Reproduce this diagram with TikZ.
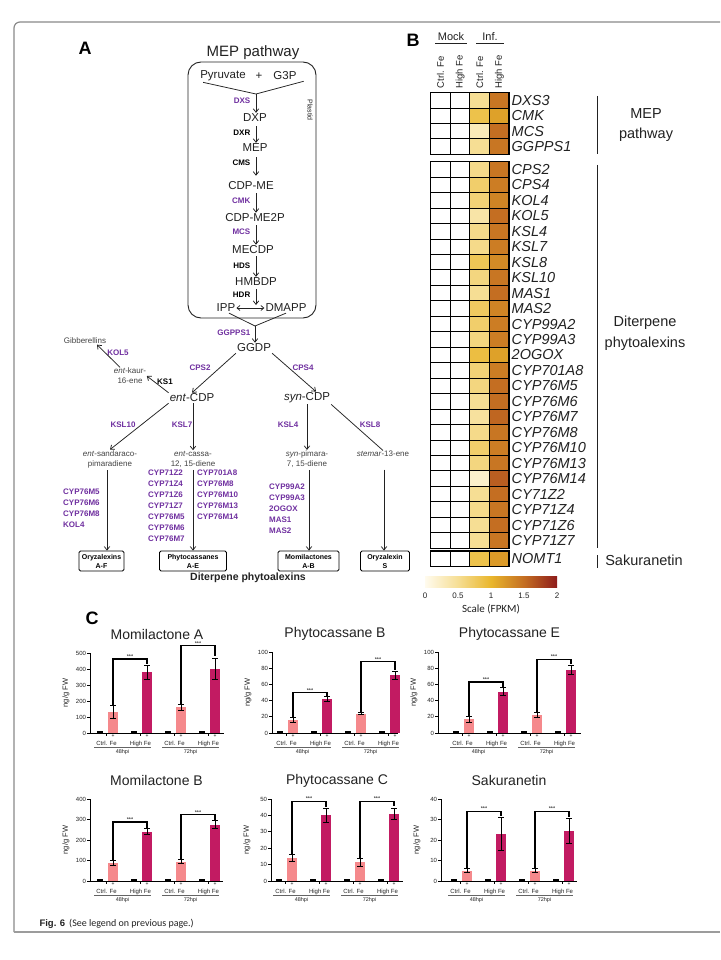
\documentclass[tikz,border=0pt]{standalone}
\usepackage{fontspec}
\setmainfont{Liberation Sans}
\newfontfamily\carl{Carlito}
\usetikzlibrary{arrows.meta,calc}

\definecolor{enz}{HTML}{7030A0}
\definecolor{txt}{HTML}{222222}
\definecolor{cmA}{HTML}{FFFBEE}
\definecolor{cmB}{HTML}{F6DE94}
\definecolor{cmC}{HTML}{E9B62C}
\definecolor{cmD}{HTML}{C46E22}
\definecolor{cmE}{HTML}{8E1C1C}
\definecolor{barlo}{HTML}{F5898C}
\definecolor{barhi}{HTML}{C21B62}
\definecolor{frm}{HTML}{8A8A8A}

\pgfdeclarehorizontalshading{cbar}{100bp}{color(0bp)=(cmA); color(25bp)=(cmA); color(37.5bp)=(cmB); color(50bp)=(cmC); color(62.5bp)=(cmD); color(75bp)=(cmE); color(100bp)=(cmE)}

\newcommand{\fsz}[2]{\fontsize{#1}{#2}\selectfont}

\newcommand{\setcm}[1]{%
  \pgfmathsetmacro\cmv{#1}%
  \ifdim\cmv pt<0.5pt
    \pgfmathtruncatemacro\cmp{\cmv/0.5*100}\colorlet{hmcol}{cmB!\cmp!cmA}%
  \else\ifdim\cmv pt<1pt
    \pgfmathtruncatemacro\cmp{(\cmv-0.5)/0.5*100}\colorlet{hmcol}{cmC!\cmp!cmB}%
  \else\ifdim\cmv pt<1.5pt
    \pgfmathtruncatemacro\cmp{(\cmv-1)/0.5*100}\colorlet{hmcol}{cmD!\cmp!cmC}%
  \else
    \pgfmathtruncatemacro\cmp{(\cmv-1.5)/0.5*100}\colorlet{hmcol}{cmE!\cmp!cmD}%
  \fi\fi\fi}

% heatmap row: y, h, value col3, value col4, gene
\newcommand{\hmrow}[5]{%
  \fill[white] (430.7,#1) rectangle ++(39.2,#2);
  \setcm{#3}\fill[fill=hmcol] (469.9,#1) rectangle ++(19.6,#2);
  \setcm{#4}\fill[fill=hmcol] (489.5,#1) rectangle ++(19.6,#2);
  \foreach \cx in {430.7,450.3,469.9,489.5}{\draw[cellb] (\cx,#1) rectangle ++(19.6,#2);}
  \node[gene] (gn) at (511,#1+#2/2) {#5};
}

% bar with error bar: x, v, e, colour
\newcommand{\cbar}[4]{%
  \fill[#4] (#1-5,0) rectangle (#1+5,#2);
  \draw[eb] (#1,#2-#3) -- (#1,#2+#3);
  \draw[eb] ($(#1,#2+#3)+(-3pt,0)$) -- ($(#1,#2+#3)+(3pt,0)$);
  \draw[eb] ($(#1,#2-#3)+(-3pt,0)$) -- ($(#1,#2-#3)+(3pt,0)$);
  \draw[line width=2pt] ($(#1-16,0)+(0,1pt)$) -- ($(#1-10,0)+(0,1pt)$);
  \draw[line width=0.6pt] ($(#1-7,0)$) -- ($(#1-7,0)+(0,-3pt)$);
  \node[plussgn] (pl) at ($(#1,0)+(0,-3.5pt)$) {+};
}

% chart: x0, y0, xend, h, ymax, step, title, first bar offset, data
\newcommand{\barchart}[9]{%
  \pgfmathsetmacro\ys{#4/#5}%
  \pgfmathsetmacro\axw{#3-#1}%
  \pgfmathsetmacro\bca{#8}\pgfmathsetmacro\bcb{#8+34}%
  \pgfmathsetmacro\bcc{#8+68}\pgfmathsetmacro\bcd{#8+102}%
  \begin{scope}[shift={(#1,#2)}, y=\ys pt]
    \node[ctitle] (tt) at ($(\axw/2,#5)+(0,18.5pt)$) {#7};
    \node[ylab] (yl) at ($(0,#5/2)+(-24pt,0)$) {ng/g FW};
    \foreach \t in {0,#6,...,#5}{%
      \draw[axl] (0,\t) -- ($(0,\t)+(-3pt,0)$);
      \node[ticklab] (tk) at ($(0,\t)+(-3.5pt,0)$) {\t};
    }
    \foreach \va/\ea/\vb/\eb/\vc/\ec/\vd/\ed/\ta/\da/\tb/\db in {#9}{%
      \cbar{\bca}{\va}{\ea}{barlo}
      \cbar{\bcb}{\vb}{\eb}{barhi}
      \cbar{\bcc}{\vc}{\ec}{barlo}
      \cbar{\bcd}{\vd}{\ed}{barhi}
      \draw[brkt] (\bca,\va+\ea) |- (\bcb,\ta) -- (\bcb,\da);
      \draw[brkt] (\bcc,\vc+\ec) |- (\bcd,\tb) -- (\bcd,\db);
      \node[stars] (s1) at (\bca/2+\bcb/2,\ta) {***};
      \node[stars] (s2) at (\bcc/2+\bcd/2,\tb) {***};
    }
    \draw[axl] (0,#5) -- (0,0) -- (\axw,0);
    \node[xl] (x1) at ($(\bca-6.5,0)+(0,-10.5pt)$) {Ctrl. Fe};
    \node[xl] (x2) at ($(\bcb-6.5,0)+(0,-10.5pt)$) {High Fe};
    \node[xl] (x3) at ($(\bcc-6.5,0)+(0,-10.5pt)$) {Ctrl. Fe};
    \node[xl] (x4) at ($(\bcd-6.5,0)+(0,-10.5pt)$) {High Fe};
    \draw[grpl] ($(\bca-19,0)+(0,-14.5pt)$) -- ($(\bcb+4,0)+(0,-14.5pt)$);
    \draw[grpl] ($(\bcc-19,0)+(0,-14.5pt)$) -- ($(\bcd+4,0)+(0,-14.5pt)$);
    \node[hpi] (h1) at ($(\bca/2+\bcb/2-7.5,0)+(0,-19pt)$) {48hpi};
    \node[hpi] (h2) at ($(\bcc/2+\bcd/2-7.5,0)+(0,-19pt)$) {72hpi};
  \end{scope}}

\tikzset{
  met/.style={font=\fsz{11.5}{13}, text=txt, inner sep=1pt},
  enzl/.style={font=\fsz{8}{9}\bfseries, text=enz, inner sep=0.5pt, anchor=east},
  enzk/.style={font=\fsz{8}{9}\bfseries, text=black, inner sep=0.5pt, anchor=east},
  enzf/.style={font=\fsz{8}{9}\bfseries, text=enz, inner sep=0.5pt},
  sml/.style={font=\fsz{8}{10}, text=txt!85, align=center, inner sep=0.5pt},
  prod/.style={draw, rounded corners=1.5pt, font=\fsz{7}{9}\bfseries, align=center, minimum height=20pt, inner sep=1pt, line width=0.8pt},
  arr/.style={-{Straight Barb[length=3.5pt,width=5.5pt]}, line width=0.75pt, draw=txt},
  ln/.style={line width=0.75pt, draw=txt},
  enzlist/.style={font=\fsz{8}{10.9}\bfseries, text=enz, align=left, anchor=north west, inner sep=0pt},
  gene/.style={anchor=west, font=\fsz{14.5}{16}\itshape, inner sep=0.5pt, text=txt},
  cellb/.style={draw=black, line width=0.9pt},
  grp/.style={font=\fsz{14.5}{20.5}, text=txt, align=center},
  collab/.style={font=\fsz{9.5}{10}, text=txt, rotate=90, anchor=west, inner sep=0.5pt},
  ctitle/.style={font=\fsz{14}{15}, text=txt},
  ylab/.style={font=\fsz{7.5}{8}, text=txt, rotate=90},
  ticklab/.style={font=\fsz{6}{7}, text=txt, anchor=east, inner sep=0.3pt},
  axl/.style={line width=0.9pt, draw=black},
  eb/.style={line width=0.9pt, draw=black},
  brkt/.style={line width=1.2pt, draw=black},
  stars/.style={font=\fsz{5.5}{6}, anchor=south, inner sep=0.3pt},
  xl/.style={font=\fsz{6}{7}, text=txt, inner sep=0.3pt},
  hpi/.style={font=\fsz{5.5}{6}, text=txt, inner sep=0.3pt},
  plussgn/.style={font=\fsz{5}{5}, inner sep=0pt},
  grpl/.style={line width=0.7pt, draw=txt!70},
}

\begin{document}
\begin{tikzpicture}[x=1pt,y=-1pt]
\useasboundingbox (0,0) rectangle (720,960);
\fill[white] (0,0) rectangle (720,960);

% frame
\draw[frm, line width=1.2pt, rounded corners=6pt] (14,932) -- (14,22) -- (720,22);
\draw[frm!85, line width=2pt] (14,932) -- (720,932);

% ================= Panel A =================
\node[font=\fsz{18}{20}\bfseries] (lblA) at (85,48) {A};
\node[font=\fsz{15}{17}, text=txt] (meptitle) at (253,53) {MEP pathway};
\node[draw=txt, line width=0.9pt, rounded corners=13pt, minimum width=128pt, minimum height=256pt] (plastbox) at (252,190) {};
\node[font=\fsz{7}{8}, rotate=-90, text=txt] (plast) at (310,110) {Plastid};

\node[met] (pyr) at (223,76) {Pyruvate};
\node[met] (plus) at (259,76) {+};
\node[met] (g3p) at (285,76) {G3P};
\coordinate (j1) at (256,94);
\draw[ln] ($(pyr.south west)+(4,0)$) -- (j1) -- ($(g3p.south east)+(6,0)$);

\node[met] (dxp) at (255,118) {DXP};
\node[met] (mep) at (255,148) {MEP};
\node[met] (cdpme) at (251,186) {CDP-ME};
\node[met] (cdpme2p) at (255,218) {CDP-ME2P};
\node[met] (mecdp) at (253,250) {MECDP};
\node[met] (hmbdp) at (256,282) {HMBDP};
\node[met] (ipp) at (226,308) {IPP};
\node[met] (dmapp) at (286,308) {DMAPP};
\coordinate (dblmid) at (256,305);

\draw[arr] (j1) -- (dxp.north -| j1);
\draw[arr] ($(dxp.south -| j1)+(0,3)$) -- (mep.north -| j1);
\draw[arr] ($(mep.south -| j1)+(0,4)$) -- ($(cdpme.north -| j1)+(0,-5)$);
\draw[arr] ($(cdpme.south -| j1)+(0,2)$) -- (cdpme2p.north -| j1);
\draw[arr] ($(cdpme2p.south -| j1)+(0,2)$) -- (mecdp.north -| j1);
\draw[arr] ($(mecdp.south -| j1)+(0,1)$) -- (hmbdp.north -| j1);
\draw[arr] ($(hmbdp.south -| j1)+(0,2)$) -- (dblmid);
\draw[{Straight Barb[length=3pt,width=5pt]}-{Straight Barb[length=3pt,width=5pt]}, line width=0.7pt, draw=txt] (ipp.east) -- (dmapp.west);

\node[enzl] (dxs) at (251,101) {DXS};
\node[enzk] (dxr) at (251,133) {DXR};
\node[enzk] (cms) at (251,163) {CMS};
\node[enzl] (cmk) at (251,201) {CMK};
\node[enzl] (mcs) at (251,232) {MCS};
\node[enzk] (hds) at (251,266) {HDS};
\node[enzk] (hdr) at (251,295) {HDR};

\coordinate (j2) at (255,326);
\draw[ln] ($(ipp.south)+(3,0)$) -- (j2) -- (dmapp.south);
\node[met] (ggdp) at (254,348) {GGDP};
\draw[arr] (j2) -- (ggdp.north -| j2);
\node[enzl] (ggpps) at (251,333) {GGPPS1};

\node[met] (entcdp) at (192,398) {\textit{ent}-CDP};
\node[met] (syncdp) at (307,398) {\textit{syn}-CDP};
\draw[arr] (ggdp.south west) -- (entcdp.north);
\draw[arr] (ggdp.south east) -- ($(syncdp.north)+(9,0)$);
\node[enzf] (cps2) at (200,368) {CPS2};
\node[enzf] (cps4) at (303,368) {CPS4};

\node[sml] (entkaur) at (130,376) {\textit{ent}-kaur-\\16-ene};
\node[sml] (gib) at (85,341) {Gibberellins};
\draw[arr] (entcdp.north west) -- (entkaur.east);
\draw[arr] ($(entkaur.north)+(-10,0)$) -- ($(gib.south)+(12,0)$);
\node[font=\fsz{8}{9}\bfseries, inner sep=0.5pt] (ks1) at (165,382) {KS1};
\node[enzf] (kol5) at (118,353) {KOL5};

\node[sml] (sand) at (110,459) {\textit{ent}-sandaraco-\\pimaradiene};
\node[sml] (cassa) at (193,459) {\textit{ent}-cassa-\\12, 15-diene};
\node[sml] (pim) at (307,459) {\textit{syn}-pimara-\\7, 15-diene};
\node[sml] (stem) at (383,454) {\textit{stemar}-13-ene};

\draw[arr] (entcdp.south west) -- (sand.north);
\draw[arr] (entcdp.south -| cassa) -- (cassa.north);
\draw[arr] (syncdp.south -| pim) -- (pim.north);
\draw[ln] (syncdp.south east) -- (stem.north);
\node[enzf] (ksl10) at (123,425) {KSL10};
\node[enzf] (ksl7) at (182,425) {KSL7};
\node[enzf] (ksl4) at (288,425) {KSL4};
\node[enzf] (ksl8) at (370,425) {KSL8};

\node[prod, minimum width=45pt] (oryAF) at (101.5,561) {Oryzalexins\\A-F};
\node[prod, minimum width=67pt] (phyAE) at (193,561) {Phytocassanes\\A-E};
\node[prod, minimum width=61pt] (momAB) at (308.5,561) {Momilactones\\A-B};
\node[prod, minimum width=49pt] (oryS) at (385,561) {Oryzalexin\\S};

\coordinate (sa) at ($(sand.south)+(-3,2)$);
\coordinate (ca) at ($(cassa.south)+(0,2)$);
\coordinate (pa) at ($(pim.south)+(2,2)$);
\coordinate (sta) at ($(stem.south)+(1,12)$);
\draw[arr] (sa) -- (sa |- oryAF.north);
\draw[arr] (ca) -- (ca |- phyAE.north);
\draw[arr] (pa) -- (pa |- momAB.north);
\draw[arr] (sta) -- (sta |- oryS.north);

\node[enzlist] (lst1) at (63,489) {CYP76M5\\CYP76M6\\CYP76M8\\KOL4};
\node[enzlist] (lst2) at (148,470) {CYP71Z2\\CYP71Z4\\CYP71Z6\\CYP71Z7\\CYP76M5\\CYP76M6\\CYP76M7};
\node[enzlist] (lst3) at (197,470) {CYP701A8\\CYP76M8\\CYP76M10\\CYP76M13\\CYP76M14};
\node[enzlist] (lst4) at (269,484) {CYP99A2\\CYP99A3\\2OGOX\\MAS1\\MAS2};

\node[font=\fsz{10.5}{12}\bfseries, text=txt] (dtp) at (248,578) {Diterpene phytoalexins};

% ================= Panel B =================
\node[font=\fsz{18}{20}\bfseries] (lblB) at (413,40) {B};
\node[font=\fsz{11}{12}, text=txt, inner xsep=2.5pt, inner ysep=2.5pt] (mock) at (451,37) {Mock};
\node[font=\fsz{11}{12}, text=txt, inner ysep=2.5pt, minimum width=27pt] (inf) at (490,37) {Inf.};
\draw[line width=0.6pt, draw=txt] (mock.south west) -- (mock.south east);
\draw[line width=0.6pt, draw=txt] (inf.south west) -- (inf.south east);
\node[collab] (cl1) at (440.5,89) {Ctrl. Fe};
\node[collab] (cl2) at (460.1,89) {High Fe};
\node[collab] (cl3) at (479.7,89) {Ctrl. Fe};
\node[collab] (cl4) at (499.3,89) {High Fe};

\foreach \hg/\ha/\hb [count=\i from 0] in {DXS3/0.5/1.45, CMK/0.85/1.15, MCS/0.3/1.5, GGPPS1/0.5/1.45}{
  \pgfmathsetmacro\yy{92.7+\i*15.4}
  \hmrow{\yy}{15.4}{\ha}{\hb}{\hg}
}
\draw[line width=1.4pt] (430.7,92.7) rectangle (509.1,154.3);

\foreach \hg/\ha/\hb [count=\i from 0] in {CPS2/0.55/1.45, CPS4/0.7/1.4, KOL4/0.65/1.35, KOL5/0.4/1.5, KSL4/0.55/1.45, KSL7/0.55/1.4, KSL8/0.8/1.3, KSL10/0.6/1.45, MAS1/0.5/1.5, MAS2/0.75/1.35, CYP99A2/0.7/1.4, CYP99A3/0.6/1.4, 2OGOX/0.9/1.15, CYP701A8/0.65/1.4, CYP76M5/0.6/1.5, CYP76M6/0.5/1.5, CYP76M7/0.45/1.55, CYP76M8/0.55/1.45, CYP76M10/0.7/1.4, CYP76M13/0.6/1.45, CYP76M14/0.2/1.6, CY71Z2/0.5/1.5, CYP71Z4/0.55/1.45, CYP71Z6/0.5/1.5, CYP71Z7/0.5/1.45}{
  \pgfmathsetmacro\yy{161.7+\i*15.46}
  \hmrow{\yy}{15.46}{\ha}{\hb}{\hg}
}
\draw[line width=1.4pt] (430.7,161.7) rectangle (509.1,548.2);

\hmrow{551}{15.7}{0.85}{1.2}{NOMT1}
\draw[line width=1.4pt] (430.7,551) rectangle (509.1,566.7);

\draw[line width=0.9pt, draw=txt] (597.7,96) -- (597.7,154);
\draw[line width=0.9pt, draw=txt] (597.7,165) -- (597.7,548);
\draw[line width=0.9pt, draw=txt] (597.7,555) -- (597.7,568);
\node[grp] (gmep) at (646,125) {MEP\\pathway};
\node[grp] (gdit) at (645,333) {Diterpene\\phytoalexins};
\node[grp] (gsak) at (644,560) {Sakuranetin};

\shade[shading=cbar] (425,576) rectangle (557,587);
\foreach \lv/\lt in {0/0, 0.5/0.5, 1/1, 1.5/1.5, 2/2}{
  \node[font=\fsz{8}{9}, text=txt] (cb) at (425+\lv*66,596) {\lt};
}
\node[font=\fsz{11}{12}\carl, text=txt] (scl) at (491,609) {Scale (FPKM)};

% ================= Panel C =================
\node[font=\fsz{18}{20}\bfseries] (lblC) at (92,618) {C};

\barchart{90}{733}{224}{80}{500}{100}{Momilactone A}{23}{132/38/380/45/160/17/400/68/462/432/545/479}
\barchart{272}{733}{398}{81}{100}{20}{Phytocassane B}{21}{16/3/42/3/24/1/71/5/50/46/88/78}
\barchart{438}{733}{581}{81}{100}{20}{Phytocassane E}{31}{17/4/51/5/22/3/78/6/63/57/91/85}
\barchart{90}{881}{223}{82}{400}{100}{Momilactone B}{23}{88/12/240/15/95/8/275/18/288/258/323/295}
\barchart{271}{881}{403}{82}{50}{10}{Phytocassane C}{21}{14/2/40/4.5/11.5/2.5/41/3.5/48.6/45/48.6/45.5}
\barchart{441}{881}{577}{82}{40}{10}{Sakuranetin}{26}{5/1/23/8/5/1/24.5/6/34/31.5/34/31}

\node[anchor=base west, font=\fsz{9.5}{11}, text=txt] (cap) at (36,926) {\textbf{Fig. 6}\hspace{4pt}{\carl\fsz{10}{11}(See legend on previous page.)}};

\end{tikzpicture}
\end{document}
